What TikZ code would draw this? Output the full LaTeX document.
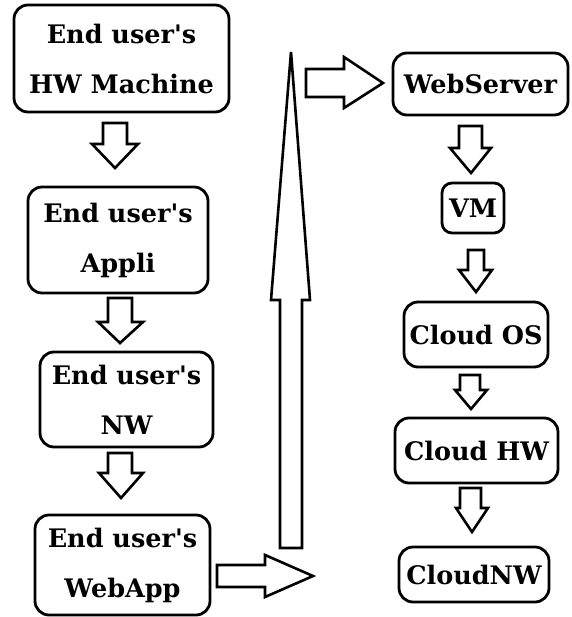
\documentclass[tikz,border=0pt]{standalone}
\usepackage{fontspec}
\setmainfont{DejaVu Serif}
\newcommand{\ap}{\textquotesingle}
\begin{document}
\begin{tikzpicture}[x=1pt,y=-1pt,
  box/.style={draw,line width=2.8pt,rounded corners=14pt,inner sep=0pt,align=center,
    font=\fontsize{25.5}{50}\selectfont\bfseries},
  blk/.style={draw,line width=2.6pt,fill=white,line join=miter}]
\useasboundingbox (0,0) rectangle (571,617);
% left column
\node[box,minimum width=215pt,minimum height=107pt] (hw) at (121.5,58.5) {End user\ap s\\HW Machine};
\node[box,minimum width=180pt,minimum height=106pt] (app) at (118,240) {End user\ap s\\Appli};
\node[box,minimum width=173pt,minimum height=95pt] (nw) at (126.5,399.5) {End user\ap s\\NW};
\node[box,minimum width=175pt,minimum height=100pt] (wa) at (122.5,565) {End user\ap s\\WebApp};
% right column
\node[box,minimum width=175pt,minimum height=62pt] (ws) at (480.5,84) {WebServer};
\node[box,rounded corners=10pt,minimum width=62pt,minimum height=50pt] (vm) at (473,208) {VM};
\node[box,minimum width=144pt,minimum height=65pt] (os) at (476,334.5) {Cloud OS};
\node[box,minimum width=163pt,minimum height=65pt] (chw) at (476.5,450.5) {Cloud HW};
\node[box,minimum width=150pt,minimum height=55pt] (cnw) at (474,574.5) {CloudNW};
% block arrows, left column
\draw[blk] (103,123)--(127,123)--(127,144)--(138,144)--(115,168)--(92,144)--(103,144)--cycle;
\draw[blk] (108,298)--(132,298)--(132,322)--(143,322)--(120,343)--(98,322)--(108,322)--cycle;
\draw[blk] (108,453)--(132,453)--(132,473)--(143,473)--(121,498)--(99,473)--(108,473)--cycle;
% right from WebApp
\draw[blk] (217,565)--(265,565)--(265,555)--(313,576)--(265,597)--(265,587)--(217,587)--cycle;
% tall up arrow
\draw[blk] (280,548)--(280,300)--(271,300)--(291,52)--(310,300)--(302,300)--(302,548)--cycle;
% right to WebServer
\draw[blk] (306,69)--(344,69)--(344,57)--(383,83)--(344,108)--(344,97)--(306,97)--cycle;
% right column arrows
\draw[blk] (459,126)--(482,126)--(482,148)--(491,148)--(471,173)--(450,148)--(459,148)--cycle;
\draw[blk] (468,250)--(484,250)--(484,270)--(492,270)--(476,292)--(459,270)--(468,270)--cycle;
\draw[blk] (460,375)--(480,375)--(480,390)--(487,390)--(471,409)--(455,390)--(460,390)--cycle;
\draw[blk] (460,488)--(481,488)--(481,508)--(488,508)--(472,532)--(456,508)--(460,508)--cycle;
\end{tikzpicture}
\end{document}
